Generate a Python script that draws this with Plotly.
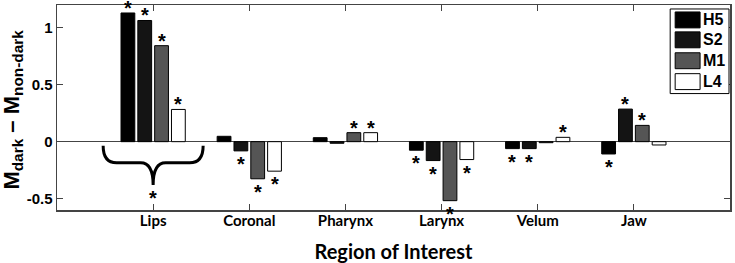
import plotly.graph_objects as go

regions = ["Lips", "Coronal", "Pharynx", "Larynx", "Velum", "Jaw"]
series_names = ["H5", "S2", "M1", "L4"]
H5 = [1.13, 0.047, 0.035, -0.075, -0.061, -0.108]
S2 = [1.064, -0.081, -0.014, -0.166, -0.061, 0.286]
M1 = [0.843, -0.326, 0.079, -0.518, -0.009, 0.143]
L4 = [0.283, -0.259, 0.079, -0.157, 0.038, -0.029]
# significance flags (asterisks)
sig_H5 = [1, 0, 0, 1, 1, 1]
sig_S2 = [1, 1, 0, 1, 1, 1]
sig_M1 = [1, 1, 1, 1, 0, 1]
sig_L4 = [1, 1, 1, 1, 1, 0]

values = [H5, S2, M1, L4]
sigs = [sig_H5, sig_S2, sig_M1, sig_L4]
colors = ["#000000", "#141414", "#555555", "#ffffff"]

W, H = 735, 263
L, R, T, B = 57, 3, 5, 52
BARGAP = 0.3
BARGROUPGAP = 0.18
xs = list(range(1, len(regions) + 1))

fig = go.Figure()
for name, vals, c in zip(series_names, values, colors):
    fig.add_trace(go.Bar(x=xs, y=vals, name=name, marker=dict(color=c, line=dict(color="black", width=1)),
                         showlegend=False, hoverinfo="skip"))

slot = (1 - BARGAP) / len(series_names)
ann = []
for k, (vals, sg) in enumerate(zip(values, sigs)):
    off = (k - (len(series_names) - 1) / 2) * slot
    for i, (v, s) in enumerate(zip(vals, sg)):
        if not s:
            continue
        if v >= 0:
            ann.append(dict(x=xs[i] + off, y=v, text="<b>*</b>", showarrow=False, yanchor="bottom",
                            yshift=-8, font=dict(size=20, family="Liberation Sans", color="black")))
        else:
            ann.append(dict(x=xs[i] + off, y=v, text="<b>*</b>", showarrow=False, yanchor="top",
                            yshift=0, font=dict(size=20, family="Liberation Sans", color="black")))

# brace under Lips
c = xs[0]
hw = 0.52
ytop, ymid, ybot = -0.035, -0.185, -0.38
path = (f"M {c-hw},{ytop} Q {c-hw},{ymid} {c-hw+0.14},{ymid} L {c-0.13},{ymid} "
        f"Q {c},{ymid} {c},{ybot} Q {c},{ymid} {c+0.13},{ymid} L {c+hw-0.14},{ymid} "
        f"Q {c+hw},{ymid} {c+hw},{ytop}")
shapes = [dict(type="path", path=path, xref="x", yref="y", line=dict(color="black", width=3))]
ann.append(dict(x=c, y=ybot, text="<b>*</b>", showarrow=False, yanchor="top", yshift=0,
                font=dict(size=20, family="Liberation Sans", color="black")))

# manual legend
pw, ph = W - L - R, H - T - B
px = lambda x: (x - L) / pw
py = lambda y: 1 - (y - T) / ph
shapes.append(dict(type="rect", xref="paper", yref="paper", x0=px(672), x1=px(731), y0=py(94), y1=py(9),
                   line=dict(color="black", width=1), fillcolor="white"))
row_top = [12, 32, 53, 74]
for name, c_, yt in zip(series_names, colors, row_top):
    shapes.append(dict(type="rect", xref="paper", yref="paper", x0=px(677), x1=px(702), y0=py(yt + 16), y1=py(yt),
                       line=dict(color="black", width=1), fillcolor=c_))
    ann.append(dict(x=px(703), y=py(yt + 8), xref="paper", yref="paper", text=f"<b>{name}</b>", showarrow=False,
                    xanchor="left", yanchor="middle", font=dict(size=16, family="Liberation Sans", color="black")))

# y-axis title
ann.append(dict(x=px(13), y=py(110), xref="paper", yref="paper", textangle=-90, showarrow=False,
                text="<b>M<sub>dark</sub> – M<sub>non-dark</sub></b>", xanchor="center", yanchor="middle",
                font=dict(size=22, family="Liberation Sans", color="black")))

fig.update_layout(
    width=W, height=H, margin=dict(l=L, r=R, t=T, b=B),
    plot_bgcolor="white", paper_bgcolor="white",
    barmode="group", bargap=BARGAP, bargroupgap=BARGROUPGAP,
    shapes=shapes, annotations=ann,
    xaxis=dict(range=[0, 7], tickvals=xs, ticktext=[f"<b>{r}</b>" for r in regions],
               tickfont=dict(size=15, family="Lato", color="black"), ticks="inside", ticklen=6,
               tickcolor="#444", showline=True, linecolor="#444", linewidth=1.5, mirror="ticks",
               showgrid=False, zeroline=False, ticklabelstandoff=-4,
               title=dict(text="<b>Region of Interest</b>", font=dict(size=20, family="Lato", color="black"),
                          standoff=17)),
    yaxis=dict(range=[-0.6, 1.2], tickvals=[-0.5, 0, 0.5, 1], ticktext=["<b>-0.5</b>", "<b>0</b>", "<b>0.5</b>", "<b>1</b>"],
               tickfont=dict(size=15, family="Liberation Sans", color="black"), ticks="inside", ticklen=6,
               tickcolor="#444", showline=True, linecolor="#444", linewidth=1.5, mirror="ticks",
               showgrid=False, zeroline=True, zerolinecolor="#444", zerolinewidth=1),
)
fig.write_html("out.html", config={"displayModeBar": False, "staticPlot": True},
               post_script="document.body.style.margin='0';document.body.style.overflow='hidden';")
